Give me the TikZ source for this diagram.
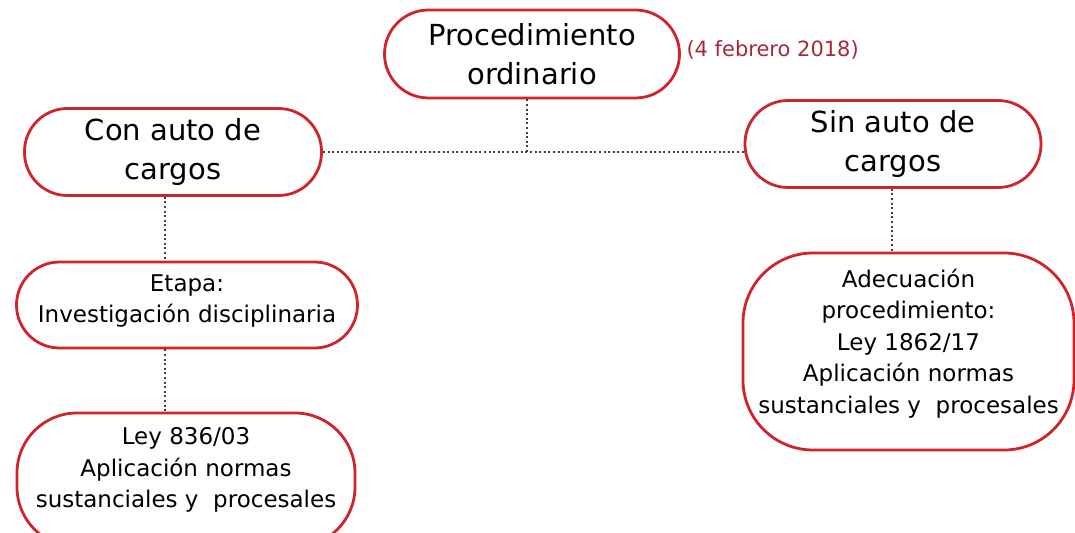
\documentclass[tikz,border=0pt]{standalone}
\usepackage{fontspec}
\setmainfont{DejaVu Sans}
\definecolor{rojo}{RGB}{208,36,44}
\definecolor{fecha}{RGB}{168,38,60}
\tikzset{
  caja/.style={draw=rojo, line width=2.8bp, fill=white, align=center, inner sep=0pt},
  punteado/.style={draw=black!75, line width=2.2bp, dash pattern=on 2bp off 2.6bp},
  grande/.style={font=\fontsize{29bp}{39bp}\selectfont},
  chica/.style={font=\fontsize{23bp}{31.5bp}\selectfont, align=center},
}
\begin{document}
\begin{tikzpicture}[x=1bp,y=-1bp]
\useasboundingbox (0,0) rectangle (1075,533);
\clip (0,0) rectangle (1075,533);

% nivel superior
\node[caja, grande, rounded corners=44bp, minimum width=295bp, minimum height=88bp] (proc) at (532,54) {Procedimiento\\ordinario};
\node[text=fecha, font=\fontsize{21bp}{24bp}\selectfont, anchor=west] (fecha) at (683,50) {(4 febrero 2018)};

% ramas
\node[caja, grande, rounded corners=43bp, minimum width=297bp, minimum height=87bp] (con) at (173,152) {Con auto de\\cargos};
\node[caja, grande, rounded corners=43bp, minimum width=296bp, minimum height=87bp] (sin) at (893,144) {Sin auto de\\cargos};

\node[caja, rounded corners=43bp, minimum width=341bp, minimum height=86bp,
      label={[chica, yshift=4bp]center:{Etapa:\\Investigación disciplinaria}}] (etapa) at (187,305) {};
\node[caja, rounded corners=60bp, minimum width=338bp, minimum height=134bp,
      label={[chica, yshift=10bp]center:{Ley 836/03\\Aplicación normas\\sustanciales y~ procesales}}] (ley) at (186,480) {};
\node[caja, rounded corners=70bp, minimum width=331bp, minimum height=197bp,
      label={[chica, yshift=8bp]center:{Adecuación\\procedimiento:\\Ley 1862/17\\Aplicación normas\\sustanciales y~ procesales}}] (adec) at (908.5,351.5) {};

% conectores
\coordinate (cruce) at ([xshift=-5bp]proc.south |- con.east);
\draw[punteado] ([xshift=-5bp]proc.south) -- (cruce);
\draw[punteado] (con.east) -- (con.east -| sin.west);
\foreach \a/\b/\dx in {con/etapa/-8, etapa/ley/-22}
{
    \draw[punteado] ([xshift=\dx bp]\a.south) -- ([xshift=\dx bp]\a.south |- \b.north);
}
\draw[punteado] ([xshift=-1bp]sin.south) -- ([xshift=-1bp]sin.south |- adec.north);

\end{tikzpicture}
\end{document}
